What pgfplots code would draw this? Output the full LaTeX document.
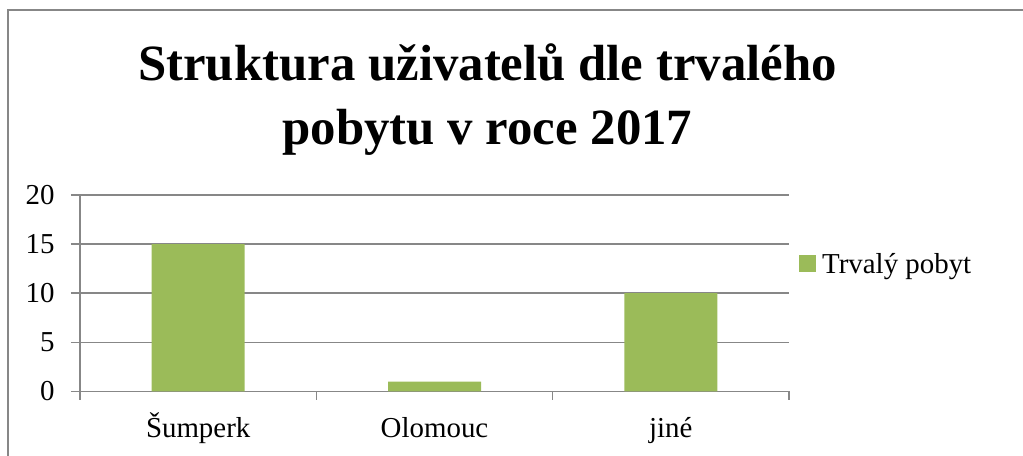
\documentclass[border=0pt]{standalone}
\usepackage{pgfplots}
\pgfplotsset{compat=1.18}
\usepackage{fontspec}
\setmainfont{Liberation Serif}
\definecolor{bargreen}{HTML}{9BBB59}
\definecolor{gridgray}{HTML}{878787}
\begin{document}
\begin{tikzpicture}[x=1bp,y=1bp]
\path[use as bounding box] (0,0) rectangle (1023,456);
\draw[gridgray, line width=1.6bp] (7.8,0) -- (7.8,446) -- (1023,446);
\node[anchor=base, font=\fontsize{51}{60}\selectfont\bfseries] at (487.5,375) {Struktura uživatelů dle trvalého};
\node[anchor=base, font=\fontsize{51}{60}\selectfont\bfseries] at (487.5,311) {pobytu v roce 2017};
\begin{axis}[
  at={(80bp,64.5bp)}, anchor=south west,
  scale only axis, width=709bp, height=196.5bp,
  xmin=-0.5, xmax=2.5, ymin=0, ymax=20,
  axis x line*=bottom, axis y line*=left,
  axis line style={gridgray, line width=1.5bp, -},
  xtick={0,1,2}, xticklabels={Šumperk,Olomouc,jiné},
  major x tick style={draw=none},
  minor xtick={-0.5,0.5,1.5,2.5},
  minor x tick style={gridgray, line width=1.5bp},
  minor tick length=8.5bp,
  ytick={0,5,10,15,20},
  major tick length=9bp,
  tick align=outside,
  y tick style={gridgray, line width=1.5bp},
  ymajorgrids, grid style={gridgray, line width=1.5bp},
  tick label style={font=\fontsize{29}{32}\selectfont},
  /pgf/number format/assume math mode=true,
  yticklabel style={xshift=-13bp},
  xticklabel style={anchor=base, yshift=-37bp},
  ybar, bar width=93bp,
  legend style={at={(1.0,0.65)}, anchor=west, draw=none, fill=none,
    font=\fontsize{29}{32}\selectfont, inner sep=0pt, xshift=10bp,
    /tikz/every even column/.append style={column sep=0pt},
    legend cell align=left},
  legend image code/.code={\fill[bargreen] (0bp,-8.5bp) rectangle (17bp,8.5bp);},
]
\addplot[fill=bargreen, draw=none] coordinates {(0,15) (1,1) (2,10)};
\addlegendentry{\hspace{4bp}Trvalý pobyt}
\end{axis}
\end{tikzpicture}
\end{document}
